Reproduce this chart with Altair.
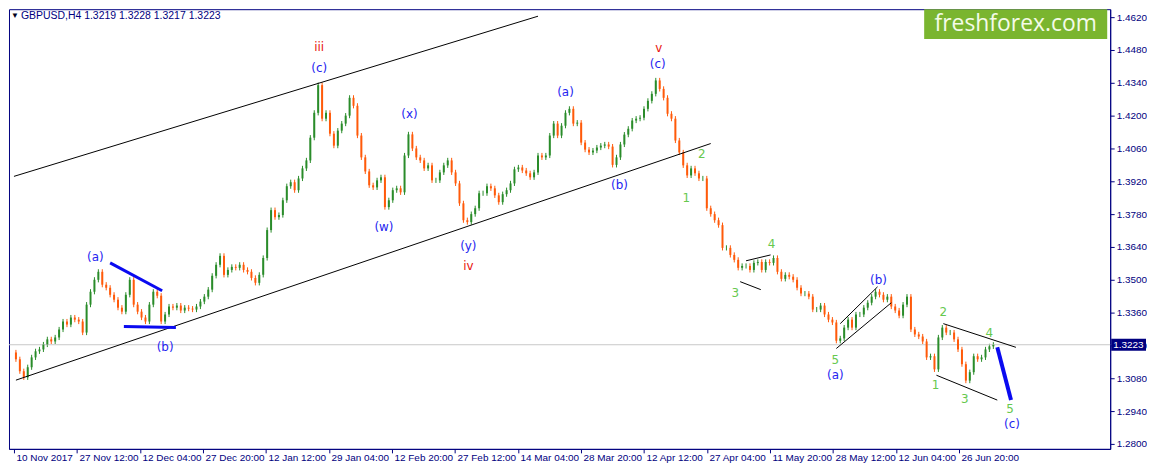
import json
import altair as alt
import pandas as pd

closes_nov_jan = [1.3161, 1.3110, 1.3084, 1.3127, 1.3169, 1.3195, 1.3203, 1.3224, 1.3246, 1.3237,
                  1.3254, 1.3288, 1.3322, 1.3309, 1.3339, 1.3330, 1.3322, 1.3275, 1.3394, 1.3449,
                  1.3500, 1.3534, 1.3479, 1.3466, 1.3436, 1.3415, 1.3381, 1.3364, 1.3436, 1.3500,
                  1.3394, 1.3364, 1.3339, 1.3322, 1.3394, 1.3449, 1.3432, 1.3322, 1.3352, 1.3386,
                  1.3381, 1.3390, 1.3369, 1.3381, 1.3377, 1.3373, 1.3386, 1.3407, 1.3428, 1.3458,
                  1.3517, 1.3564, 1.3602, 1.3521, 1.3542, 1.3555]
closes_jan_feb = [1.3551, 1.3564, 1.3542, 1.3534, 1.3508, 1.3487, 1.3521, 1.3593, 1.3712, 1.3797,
                  1.3767, 1.3776, 1.3839, 1.3899, 1.3916, 1.3882, 1.3932, 1.3975, 1.4009, 1.4106,
                  1.4212, 1.4330, 1.4187, 1.4212, 1.4123, 1.4072, 1.4136, 1.4166, 1.4200, 1.4276,
                  1.4242, 1.4115, 1.4022, 1.3962, 1.3903, 1.3894, 1.3924, 1.3937, 1.3810, 1.3839,
                  1.3882, 1.3890, 1.3873, 1.4030, 1.4120, 1.4060, 1.4022, 1.4009, 1.3975, 1.3988,
                  1.3924, 1.3924, 1.3958, 1.3988, 1.4009, 1.3958]
closes_mar_apr = [1.3911, 1.3826, 1.3754, 1.3746, 1.3780, 1.3805, 1.3869, 1.3869, 1.3899, 1.3890,
                  1.3860, 1.3831, 1.3865, 1.3882, 1.3911, 1.3971, 1.3979, 1.3966, 1.3954, 1.3937,
                  1.3958, 1.4030, 1.4022, 1.4030, 1.4115, 1.4166, 1.4115, 1.4157, 1.4212, 1.4229,
                  1.4166, 1.4170, 1.4085, 1.4055, 1.4043, 1.4051, 1.4064, 1.4072, 1.4077, 1.4068,
                  1.3990, 1.4022, 1.4077, 1.4119, 1.4144, 1.4179, 1.4187, 1.4191, 1.4229, 1.4263,
                  1.4293, 1.4350, 1.4314, 1.4276, 1.4208, 1.4187, 1.4094, 1.4043, 1.3988]
closes_apr_jun = [1.3945, 1.3975, 1.3954, 1.3932, 1.3932, 1.3805, 1.3780, 1.3754, 1.3733, 1.3636,
                  1.3636, 1.3606, 1.3585, 1.3551, 1.3559, 1.3559, 1.3542, 1.3572, 1.3576, 1.3542,
                  1.3576, 1.3572, 1.3593, 1.3534, 1.3504, 1.3521, 1.3513, 1.3500, 1.3466, 1.3441,
                  1.3441, 1.3428, 1.3373, 1.3373, 1.3390, 1.3352, 1.3330, 1.3318, 1.3240, 1.3250,
                  1.3296, 1.3330, 1.3296, 1.3352, 1.3352, 1.3381, 1.3402, 1.3428, 1.3449, 1.3436,
                  1.3415, 1.3428, 1.3386, 1.3369, 1.3347, 1.3394, 1.3428, 1.3288]
closes_jun_jul = [1.3267, 1.3258, 1.3237, 1.3169, 1.3174, 1.3118, 1.3254, 1.3296, 1.3275, 1.3275,
                  1.3246, 1.3203, 1.3140, 1.3070, 1.3106, 1.3174, 1.3161, 1.3169, 1.3203, 1.3216,
                  1.3223]
first_open = 1.3190
WICK = 0.0011
last_price = 1.3223

date_labels = ["10 Nov 2017", "27 Nov 12:00", "12 Dec 04:00", "27 Dec 20:00", "12 Jan 12:00",
               "29 Jan 04:00", "12 Feb 20:00", "27 Feb 12:00", "14 Mar 04:00", "28 Mar 20:00",
               "12 Apr 12:00", "27 Apr 04:00", "11 May 20:00", "28 May 12:00", "12 Jun 04:00",
               "26 Jun 20:00"]
BARS_PER_LABEL = 16.05
price_ticks = [round(1.2800 + 0.014 * k, 4) for k in range(14)]

# wave-count annotations: (bar index, price, text, kind)
wave_labels = [
    (77.25, 1.4492, "iii", "red"), (77.25, 1.4403, "(c)", "blue"),
    (100.25, 1.4208, "(x)", "blue"), (93.75, 1.3725, "(w)", "blue"),
    (115.25, 1.3644, "(y)", "blue"), (115.25, 1.3559, "iv", "red"),
    (140.0, 1.4301, "(a)", "blue"), (153.75, 1.3903, "(b)", "blue"),
    (163.75, 1.4488, "v", "red"), (163.5, 1.4420, "(c)", "blue"),
    (174.75, 1.4038, "2", "green"), (170.75, 1.3848, "1", "green"),
    (192.5, 1.3653, "4", "green"), (183.25, 1.3445, "3", "green"),
    (219.75, 1.3500, "(b)", "blue"), (208.75, 1.3157, "5", "green"),
    (208.75, 1.3093, "(a)", "blue"), (236.25, 1.3364, "2", "green"),
    (234.25, 1.3051, "1", "green"), (241.75, 1.2991, "3", "green"),
    (248.0, 1.3271, "4", "green"), (253.25, 1.2949, "5", "green"),
    (253.75, 1.2885, "(c)", "blue"), (20.25, 1.3598, "(a)", "blue"),
    (38.0, 1.3212, "(b)", "blue"),
]
# trend lines: (idx1, price1, idx2, price2)
black_lines = [
    (-0.5, 1.3941, 133.0, 1.4624),
    (0.0, 1.3072, 177.0, 1.4081),
    (186.0, 1.3581, 192.25, 1.3606),
    (184.5, 1.3492, 189.75, 1.3458),
    (210.0, 1.3313, 219.5, 1.3470),
    (209.0, 1.3207, 223.0, 1.3402),
    (236.25, 1.3313, 254.75, 1.3212),
    (234.5, 1.3093, 250.0, 1.2987),
]
blue_lines = [
    (24.0, 1.3572, 37.25, 1.3453),
    (27.5, 1.3301, 40.75, 1.3297),
]
blue_forecast = [(250.0, 1.3212, 253.5, 1.2987)]

# ---- build tables ----
closes = closes_nov_jan + closes_jan_feb + closes_mar_apr + closes_apr_jun + closes_jun_jul
opens = [first_open] + closes[:-1]
bars = pd.DataFrame({
    "idx": list(range(len(closes))),
    "open": opens,
    "close": closes,
})
bars["high"] = bars[["open", "close"]].max(axis=1) + WICK
bars["low"] = bars[["open", "close"]].min(axis=1) - WICK
bars["dir"] = ["up" if c >= o else "down" for o, c in zip(opens, closes)]

def seg_df(lines):
    return pd.DataFrame(lines, columns=["x1", "p1", "x2", "p2"])

lab_df = pd.DataFrame(wave_labels, columns=["idx", "price", "text", "kind"])
COLORS = {"red": "#e8120c", "blue": "#2424f0", "green": "#66c84e"}
lab_df["color"] = lab_df["kind"].map(COLORS)

W, H = 1107, 442
NAVY = "#000080"
FONT = "Liberation Sans"
xs = alt.Scale(domain=[-0.5, 277.5], nice=False, zero=False)
ys = alt.Scale(domain=[1.27789, 1.46539], nice=False, zero=False)

tick_pos = [-0.5 + BARS_PER_LABEL * k for k in range(len(date_labels))]
label_expr = json.dumps(date_labels) + "[round((datum.value + 0.5) / %s)]" % BARS_PER_LABEL

x_axis = alt.Axis(values=tick_pos, labelExpr=label_expr, orient="bottom", tickSize=4,
                  labelPadding=0, labelAlign="left", labelOffset=2, labelColor=NAVY,
                  tickColor=NAVY, domainColor=NAVY, grid=False, title=None, labelFont=FONT,
                  labelFontSize=10, labelFlush=False, labelOverlap=False, labelBound=False)
y_axis = alt.Axis(values=price_ticks, format=".4f", orient="right", tickSize=4, labelPadding=2,
                  labelColor=NAVY, tickColor=NAVY, domainColor=NAVY, grid=False, title=None,
                  labelFont=FONT, labelFontSize=10, labelFlush=False, labelOverlap=False)

def X(field):
    return alt.X(field, scale=xs, axis=x_axis)

def Y(field):
    return alt.Y(field, scale=ys, axis=y_axis)

dir_color = alt.Color("dir:N", scale=alt.Scale(domain=["up", "down"], range=["#2a8c2a", "#ff5a0a"]),
                      legend=None)

wicks = alt.Chart(bars).mark_rule(strokeWidth=1).encode(
    x=X("idx:Q"), y=Y("low:Q"), y2="high:Q", color=dir_color)
bodies = alt.Chart(bars).mark_bar(size=2).encode(
    x=X("idx:Q"), y=Y("open:Q"), y2="close:Q", color=dir_color)

price_line = alt.Chart(pd.DataFrame({"price": [last_price]})).mark_rule(
    color="#c8c8c8", strokeWidth=1).encode(y=Y("price:Q"))

def rules(df, color, width):
    return alt.Chart(df).mark_rule(color=color, strokeWidth=width).encode(
        x=X("x1:Q"), x2="x2:Q", y=Y("p1:Q"), y2="p2:Q")

black = rules(seg_df(black_lines), "#000000", 1)
blue = rules(seg_df(blue_lines), "#0a0af0", 3)
blue_fc = rules(seg_df(blue_forecast), "#0a0af0", 4)

labels = alt.Chart(lab_df).mark_text(font="DejaVu Sans", fontSize=12, align="center",
                                     baseline="middle").encode(
    x=X("idx:Q"), y=Y("price:Q"), text="text:N",
    color=alt.Color("color:N", scale=None),
)

box_df = pd.DataFrame({"top": [last_price + 0.0026], "bot": [last_price - 0.0026],
                       "price": [last_price], "label": ["%.4f" % last_price]})
price_box = alt.Chart(box_df).mark_rect(color=NAVY).encode(
    x=alt.value(W + 1), x2=alt.value(W + 36), y=Y("top:Q"), y2="bot:Q")
price_text = alt.Chart(box_df).mark_text(color="white", font=FONT, fontSize=10, align="left",
                                         baseline="middle").encode(
    x=alt.value(W + 3), y=Y("price:Q"), text="label:N")

head_df = pd.DataFrame({"sym": ["\u25bc"], "txt": ["GBPUSD,H4  1.3219 1.3228 1.3217 1.3223"]})
head_tri = alt.Chart(head_df).mark_text(color="#000020", fontSize=8, align="left",
                                        baseline="top").encode(
    x=alt.value(2), y=alt.value(3), text="sym:N")
head_txt = alt.Chart(head_df).mark_text(color=NAVY, font=FONT, fontSize=10.5, align="left",
                                        baseline="top").encode(
    x=alt.value(12), y=alt.value(2), text="txt:N")

logo_df = pd.DataFrame({"t": ["freshforex.com"]})
logo_rect = alt.Chart(logo_df).mark_rect(color="#7ab52f").encode(
    x=alt.value(920), x2=alt.value(1104), y=alt.value(0), y2=alt.value(30))
logo_txt = alt.Chart(logo_df).mark_text(color="#f4fbe8", font="Open Sans", fontSize=23,
                                        align="center", baseline="middle").encode(
    x=alt.value(1012), y=alt.value(15), text="t:N")

chart = alt.layer(
    wicks, price_line, bodies, black, blue, blue_fc, labels, price_box, price_text,
    head_tri, head_txt, logo_rect, logo_txt,
).properties(
    width=W, height=H, padding={"left": 0, "top": 0, "right": 0, "bottom": 0},
    background="white",
).configure_view(stroke=NAVY, strokeWidth=1)

chart.save("out.html", embed_options={"renderer": "svg", "actions": False})
